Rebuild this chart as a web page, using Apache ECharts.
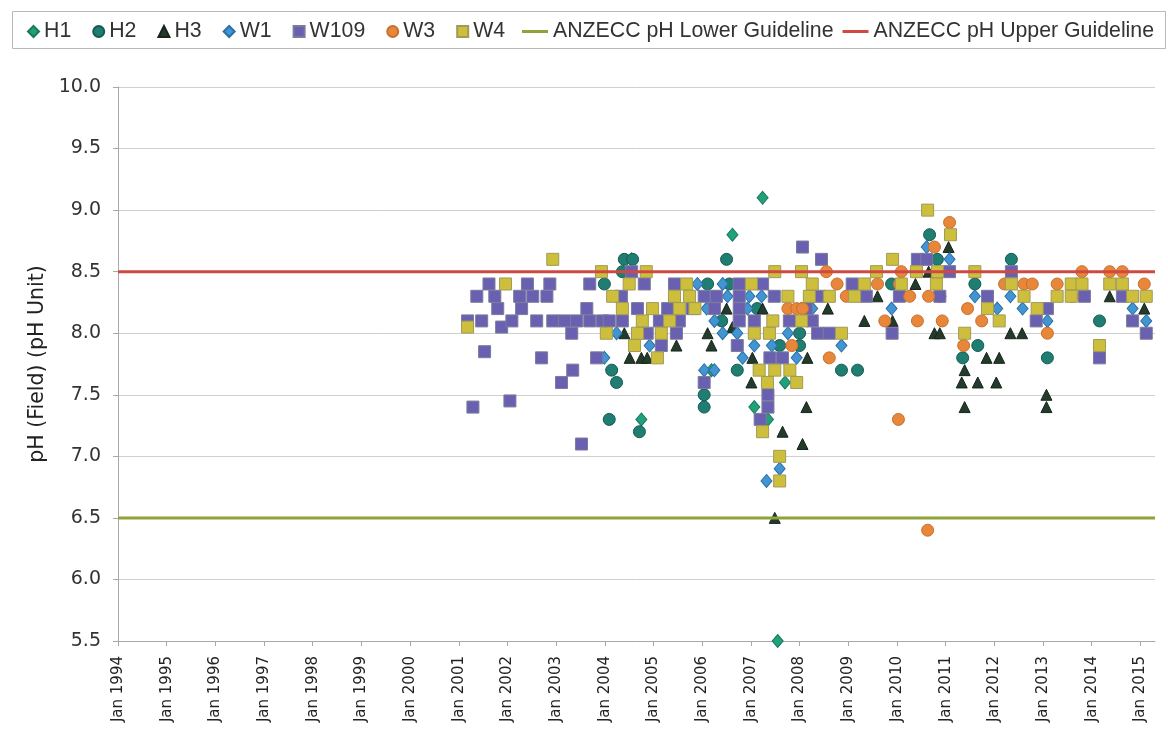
<!DOCTYPE html>
<html>
<head>
<meta charset="utf-8" />
<title>pH (Field)</title>
<script src="https://cdn.jsdelivr.net/npm/echarts@6/dist/echarts.min.js"></script>
<style>html, body { margin: 0; padding: 0; background: #fff; }</style>
</head>
<body>
<div id="main" style="width: 1168px;height:746px;"></div>
<script type="text/javascript">
// each point: [decimal year, pH]
var h1 = [[2004.55,8.6],[2004.75,7.3],[2006.19,7.7],[2006.62,8.8],[2007.07,7.4],[2007.24,9.1],[2007.35,7.3],[2007.55,5.5],[2007.70,7.6]];

var h2 = [[2003.99,8.4],[2004.09,7.3],[2004.14,7.7],[2004.24,7.6],[2004.36,8.5],[2004.40,8.6],[2004.57,8.6],[2004.71,7.2],
	[2006.04,7.5],[2006.04,7.4],[2006.11,8.4],[2006.40,8.1],[2006.50,8.6],[2006.56,8.4],[2006.72,7.7],[2007.13,8.2],[2007.59,7.9],
	[2008.00,8.0],[2008.00,7.9],[2008.86,7.7],[2009.19,7.7],[2009.89,8.4],[2010.67,8.8],[2010.83,8.6],[2010.88,8.3],[2011.35,7.8],
	[2011.60,8.4],[2011.66,7.9],[2012.35,8.6],[2013.09,7.8],[2014.16,8.1]];

var h3 = [[2004.40,8.0],[2004.51,7.8],[2004.75,7.8],[2004.87,7.8],[2005.47,7.9],[2006.11,8.0],[2006.19,7.9],[2006.50,8.2],[2006.62,8.05],
	[2007.01,7.6],[2007.03,7.8],[2007.24,8.2],[2007.49,6.5],[2007.65,7.2],[2008.06,7.1],[2008.14,7.4],[2008.16,7.8],[2008.58,8.2],
	[2009.33,8.1],[2009.60,8.3],[2009.91,8.1],[2010.38,8.4],[2010.65,8.5],[2010.77,8.0],[2010.88,8.0],[2011.06,8.7],[2011.33,7.6],
	[2011.39,7.7],[2011.39,7.4],[2011.66,7.6],[2011.84,7.8],[2012.04,7.6],[2012.10,7.8],[2012.33,8.0],[2012.57,8.0],[2013.07,7.5],
	[2013.07,7.4],[2014.37,8.3],[2015.08,8.2]];

var w1 = [[2003.99,7.8],[2004.24,8.0],[2004.92,7.9],[2005.90,8.4],[2006.04,7.7],[2006.09,8.2],[2006.25,8.1],[2006.25,7.7],[2006.42,8.4],
	[2006.42,8.0],[2006.52,8.3],[2006.72,8.0],[2006.83,7.8],[2006.93,8.2],[2006.97,8.3],[2007.07,7.9],[2007.22,8.3],[2007.32,6.8],
	[2007.43,7.9],[2007.59,6.9],[2007.76,8.0],[2007.94,7.8],[2008.26,8.2],[2008.86,7.9],[2009.89,8.2],[2010.61,8.7],[2011.08,8.6],
	[2011.60,8.3],[2012.06,8.2],[2012.33,8.3],[2012.58,8.2],[2013.09,8.1],[2014.84,8.2],[2015.12,8.1]];

var w109 = [[2001.29,7.4],[2001.18,8.1],[2001.37,8.3],[2001.47,8.1],[2001.53,7.85],[2001.62,8.4],[2001.74,8.3],[2001.80,8.2],[2001.88,8.05],
	[2002.05,7.45],[2002.09,8.1],[2002.25,8.3],[2002.29,8.2],[2002.41,8.4],[2002.52,8.3],[2002.60,8.1],[2002.70,7.8],[2002.81,8.3],
	[2002.87,8.4],[2002.93,8.1],[2003.11,7.6],[2003.17,8.1],[2003.32,8.0],[2003.34,7.7],[2003.42,8.1],[2003.52,7.1],[2003.63,8.2],
	[2003.69,8.1],[2003.69,8.4],[2003.83,7.8],[2003.95,8.1],[2004.09,8.1],[2004.34,8.3],[2004.36,8.1],[2004.55,8.5],[2004.67,8.2],
	[2004.81,8.4],[2004.87,8.0],[2005.12,8.1],[2005.16,7.9],[2005.29,8.2],[2005.43,8.4],[2005.47,8.0],[2005.53,8.1],[2005.80,8.2],
	[2006.04,8.3],[2006.29,8.3],[2006.25,8.2],[2006.76,8.4],[2006.76,8.3],[2006.76,8.2],[2006.76,8.1],[2006.72,7.9],[2007.07,8.1],
	[2007.24,8.4],[2007.48,8.3],[2007.79,8.1],[2008.14,8.2],[2007.39,7.8],[2007.65,7.8],[2006.04,7.6],[2007.35,7.5],[2007.35,7.4],
	[2007.19,7.3],[2008.06,8.7],[2008.26,8.1],[2008.37,8.0],[2008.61,8.0],[2008.41,8.3],[2008.45,8.6],[2009.08,8.4],[2009.37,8.3],
	[2009.90,8.0],[2010.05,8.3],[2010.42,8.6],[2010.61,8.6],[2010.88,8.3],[2011.08,8.5],[2011.86,8.3],[2012.35,8.5],[2012.86,8.1],
	[2013.09,8.2],[2013.85,8.3],[2014.16,7.8],[2014.63,8.3],[2014.84,8.1],[2015.12,8.0]];

var w3 = [[2007.76,8.2],[2007.94,8.2],[2007.84,7.9],[2008.06,8.2],[2008.55,8.5],[2008.61,7.8],[2008.77,8.4],[2008.96,8.3],[2009.60,8.4],
	[2009.75,8.1],[2010.05,8.4],[2010.09,8.5],[2010.03,7.3],[2010.26,8.3],[2010.42,8.1],[2010.65,8.3],[2010.63,6.4],[2010.77,8.7],
	[2010.93,8.1],[2011.08,8.9],[2011.37,7.9],[2011.45,8.2],[2011.74,8.1],[2012.21,8.4],[2012.61,8.4],[2012.78,8.4],[2013.09,8.0],
	[2013.29,8.4],[2013.60,8.3],[2013.80,8.5],[2014.37,8.5],[2014.63,8.5],[2015.08,8.4]];

var w4 = [[2001.18,8.05],[2001.96,8.4],[2002.93,8.6],[2003.93,8.5],[2004.03,8.0],[2004.16,8.3],[2004.36,8.2],[2004.50,8.4],[2004.61,7.9],
	[2004.67,8.0],[2004.77,8.1],[2004.85,8.5],[2004.98,8.2],[2005.08,7.8],[2005.16,8.0],[2005.33,8.1],[2005.43,8.3],[2005.53,8.2],
	[2005.68,8.4],[2005.74,8.3],[2005.85,8.2],[2007.01,8.4],[2007.07,8.0],[2007.17,7.7],[2007.24,7.2],[2007.34,7.6],[2007.38,8.0],
	[2007.45,8.1],[2007.49,8.5],[2007.49,7.7],[2007.59,7.0],[2007.59,6.8],[2007.76,8.3],[2007.80,7.7],[2007.94,7.6],[2008.04,8.5],
	[2008.04,8.1],[2008.20,8.3],[2008.26,8.4],[2008.61,8.3],[2008.86,8.0],[2009.13,8.3],[2009.33,8.4],[2009.58,8.5],[2009.91,8.6],
	[2010.09,8.4],[2010.40,8.5],[2010.63,9.0],[2010.81,8.4],[2010.83,8.5],[2011.10,8.8],[2011.39,8.0],[2011.60,8.5],[2011.86,8.2],
	[2012.10,8.1],[2012.35,8.4],[2012.61,8.3],[2012.88,8.2],[2013.29,8.3],[2013.58,8.4],[2013.58,8.3],[2013.80,8.4],[2014.16,7.9],
	[2014.37,8.4],[2014.63,8.4],[2014.84,8.3],[2015.12,8.3]];

// guideline values (pH)
var lowerGuide = 6.5;
var upperGuide = 8.5;

// axis ticks
var xTickYears = [1994,1995,1996,1997,1998,1999,2000,2001,2002,2003,2004,2005,2006,2007,2008,2009,2010,2011,2012,2013,2014,2015];
var xMin = 1994, xMax = 2015.3;
var yMin = 5.5, yMax = 10, yStep = 0.5;

var myChart = echarts.init(document.getElementById('main'));
var axisFont = 'DejaVu Sans';
var legendFont = "'Liberation Sans', Arial, sans-serif";

function scatter(name, data, symbol, size, color, border) {
	return {
		name: name,
		type: 'scatter',
		symbol: symbol,
		symbolSize: size,
		data: data,
		itemStyle: { color: color, borderColor: border, borderWidth: 1, opacity: 1 },
		emphasis: { disabled: true }
	};
}

var option = {
	animation: false,
	backgroundColor: '#fff',
	graphic: [{
		type: 'rect',
		left: 10,
		top: 9,
		silent: true,
		shape: { width: 1153, height: 37 },
		style: { fill: 'none', stroke: '#b8b8b8', lineWidth: 1 }
	}],
	legend: [{
		data: ['H1', 'H2', 'H3', 'W1', 'W109', 'W3', 'W4'],
		left: 22,
		top: 16,
		itemWidth: 11,
		itemHeight: 11,
		itemGap: 21,
		textStyle: { fontFamily: legendFont, fontSize: 21.3, color: '#333' }
	}, {
		data: [
			{ name: 'ANZECC pH Lower Guideline', icon: 'rect' },
			{ name: 'ANZECC pH Upper Guideline', icon: 'rect' }
		],
		left: 517,
		top: 16,
		itemWidth: 26,
		itemHeight: 3,
		itemGap: 9,
		textStyle: { fontFamily: legendFont, fontSize: 21.3, color: '#333' }
	}],
	grid: { left: 118, right: 13, top: 87, bottom: 105 },
	xAxis: {
		type: 'value',
		min: xMin,
		max: xMax,
		interval: 1,
		splitLine: { show: false },
		axisLine: { lineStyle: { color: '#a8a8a8' } },
		axisTick: { show: true, length: 5, lineStyle: { color: '#a8a8a8' } },
		axisLabel: {
			rotate: 90,
			margin: 15,
			showMaxLabel: false,
			fontFamily: axisFont,
			fontSize: 15,
			color: '#222',
			formatter: function (v) {
				return xTickYears.indexOf(Math.round(v)) >= 0 && Math.abs(v - Math.round(v)) < 1e-6 ? 'Jan ' + Math.round(v) : '';
			}
		}
	},
	yAxis: {
		type: 'value',
		min: yMin,
		max: yMax,
		interval: yStep,
		name: 'pH (Field) (pH Unit)',
		nameLocation: 'middle',
		nameGap: 68,
		nameTextStyle: { fontFamily: axisFont, fontSize: 20.5, color: '#222' },
		axisLine: { show: true, lineStyle: { color: '#a8a8a8' } },
		axisTick: { show: true, length: 5, lineStyle: { color: '#a8a8a8' } },
		axisLabel: {
			margin: 17,
			fontFamily: axisFont,
			fontSize: 19,
			color: '#333',
			formatter: function (v) { return v.toFixed(1); }
		},
		splitLine: { lineStyle: { color: '#cfcfcf' } }
	},
	series: [
		{
			name: 'ANZECC pH Lower Guideline',
			type: 'line',
			symbol: 'none',
			silent: true,
			data: [[xMin, lowerGuide], [xMax, lowerGuide]],
			lineStyle: { color: '#8ea43b', width: 3 },
			itemStyle: { color: '#8ea43b' }
		},
		{
			name: 'ANZECC pH Upper Guideline',
			type: 'line',
			symbol: 'none',
			silent: true,
			data: [[xMin, upperGuide], [xMax, upperGuide]],
			lineStyle: { color: '#cf4842', width: 3 },
			itemStyle: { color: '#cf4842' }
		},
		scatter('H1', h1, 'diamond', [11, 13], '#22a07a', '#167a5c'),
		scatter('H2', h2, 'circle', 12, '#1f7d72', '#155a52'),
		scatter('H3', h3, 'triangle', 11, '#233b2b', '#17261c'),
		scatter('W1', w1, 'diamond', [11, 13], '#4294d3', '#2a6fa5'),
		scatter('W109', w109, 'rect', 12, '#6a60b2', '#7b7b9a'),
		scatter('W3', w3, 'circle', 12, '#e8863a', '#c8702e'),
		scatter('W4', w4, 'rect', 12, '#cdbf3c', '#a09a5a')
	]
};

myChart.setOption(option);
</script>
</body>
</html>
